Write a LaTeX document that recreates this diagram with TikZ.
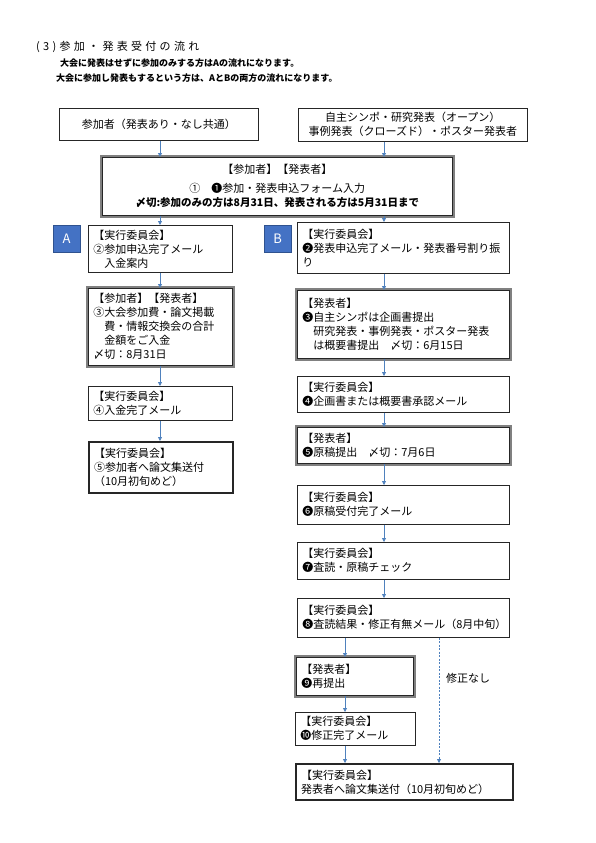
\documentclass[tikz,border=0pt]{standalone}
\usepackage{fontspec}
\setmainfont{Noto Sans CJK JP}
\usetikzlibrary{arrows.meta}
\definecolor{arrowblue}{RGB}{79,129,189}
\definecolor{tagblue}{RGB}{68,114,196}
\definecolor{tagedge}{RGB}{47,82,143}
\definecolor{framegray}{RGB}{128,128,128}
\begin{document}
\begin{tikzpicture}
  [x=1pt,y=-1pt,every node/.style={font=\fontsize{11}{14}\selectfont}]
  \tikzstyle{box} = [draw=black!85,line width=.6pt,anchor=north west,align=left,inner xsep=5pt,inner ysep=0pt]
  \tikzstyle{heavy} = [box,line width=2pt]
  \tikzstyle{tag} = [draw=tagedge,fill=tagblue,text=white,anchor=north west,minimum size=27pt,inner sep=0pt,font=\fontsize{13}{13}\selectfont]
  \tikzstyle{note} = [anchor=west,inner sep=0pt,font=\bfseries\fontsize{9}{9}\selectfont]
  \tikzstyle{arr} = [arrowblue,line width=.8pt,-{Triangle[width=4pt,length=4pt]}]
  \useasboundingbox (0,0) rectangle (596,843);

  % heading
  \node[note,font=\fontsize{11}{11}\selectfont\addfontfeature{LetterSpace=30}] (title) at (36,47) {(3)参加・発表受付の流れ};
  \node[note] (note1) at (60,63) {大会に発表はせずに参加のみする方はAの流れになります。};
  \node[note] (note2) at (56,78) {大会に参加し発表もするという方は、AとBの両方の流れになります。};

  % entry
  \node[box,align=center,text width=189pt,minimum height=32pt] (p) at (59,108) {参加者（発表あり・なし共通）};
  \node[box,align=center,text width=219pt,minimum height=33pt] (q) at (298,108) {自主シンポ・研究発表（オープン）\\事例発表（クローズド）・ポスター発表者};
  \node[box,align=center,text width=340pt,minimum height=58pt] (big) at (102,157) {【参加者】【発表者】\\[5pt]①　❶参加・発表申込フォーム入力\\{\bfseries\fontsize{10.5}{13}\selectfont 〆切:参加のみの方は8月31日、発表される方は5月31日まで}};

  % flow A
  \node[tag] (ta) at (53,225) {A};
  \node[box,text width=134pt,minimum height=47pt] (a2) at (88,225) {【実行委員会】\\②参加申込完了メール\\　入金案内};
  \node[box,text width=134pt,minimum height=77pt] (a3) at (88,288) {【参加者】【発表者】\\③大会参加費・論文掲載\\　費・情報交換会の合計\\　金額をご入金\\〆切：8月31日};
  \node[box,text width=134pt,minimum height=34pt] (a4) at (88,386) {【実行委員会】\\④入金完了メール};
  \node[heavy,text width=134pt,minimum height=51pt] (a5) at (88,441) {【実行委員会】\\⑤参加者へ論文集送付\\（10月初旬めど）};

  % flow B
  \node[tag] (tb) at (264,225) {B};
  \node[box,text width=202pt,minimum height=51pt] (b2) at (297,222) {【実行委員会】\\❷発表申込完了メール・発表番号割り振\\り};
  \node[box,text width=202pt,minimum height=68pt] (b3) at (297,290) {【発表者】\\❸自主シンポは企画書提出\\　研究発表・事例発表・ポスター発表\\　は概要書提出　〆切：6月15日};
  \node[box,text width=202pt,minimum height=36pt] (b4) at (297,376) {【実行委員会】\\❹企画書または概要書承認メール};
  \node[box,text width=202pt,minimum height=36pt] (b5) at (297,427) {【発表者】\\❺原稿提出　〆切：7月6日};
  \node[box,text width=202pt,minimum height=39pt] (b6) at (297,485) {【実行委員会】\\❻原稿受付完了メール};
  \node[box,text width=202pt,minimum height=37pt] (b7) at (297,542) {【実行委員会】\\❼査読・原稿チェック};
  \node[box,text width=202pt,minimum height=39pt] (b8) at (297,598) {【実行委員会】\\❽査読結果・修正有無メール（8月中旬）};
  \node[box,text width=107pt,minimum height=38pt] (b9) at (296,657) {【発表者】\\❾再提出};
  \node[box,text width=110pt,minimum height=33pt] (b10) at (295,712) {【実行委員会】\\❿修正完了メール};
  \node[heavy,text width=207pt,minimum height=36pt] (fin) at (295,763) {【実行委員会】\\発表者へ論文集送付（10月初旬めど）};
  \node (nofix) at (468,678) {修正なし};

  % double frames
  \foreach \n in {big,a3,b3,b5,b9}
    \draw[framegray,line width=2pt] ([shift={(-1.5pt,1.5pt)}]\n.north west) rectangle ([shift={(1.5pt,-1.5pt)}]\n.south east);

  % connectors
  \coordinate (colA) at (160,0);
  \coordinate (colB) at (384,0);
  \coordinate (colC) at (345,0);
  \coordinate (colD) at (439,0);
  \foreach \source/\dest in {p/big,big/a2,a2/a3,a3/a4,a4/a5}
    \draw[arr] (\source.south -| colA) -- (\dest.north -| colA);
  \foreach \source/\dest in {q/big,big/b2,b2/b3,b3/b4,b4/b5,b5/b6,b6/b7,b7/b8}
    \draw[arr] (\source.south -| colB) -- (\dest.north -| colB);
  \foreach \source/\dest in {b8/b9,b9/b10,b10/fin}
    \draw[arr] (\source.south -| colC) -- (\dest.north -| colC);
  \draw[arr,dash pattern=on 2pt off 1.5pt] (b8.south -| colD) -- (fin.north -| colD);

\end{tikzpicture}
\end{document}
